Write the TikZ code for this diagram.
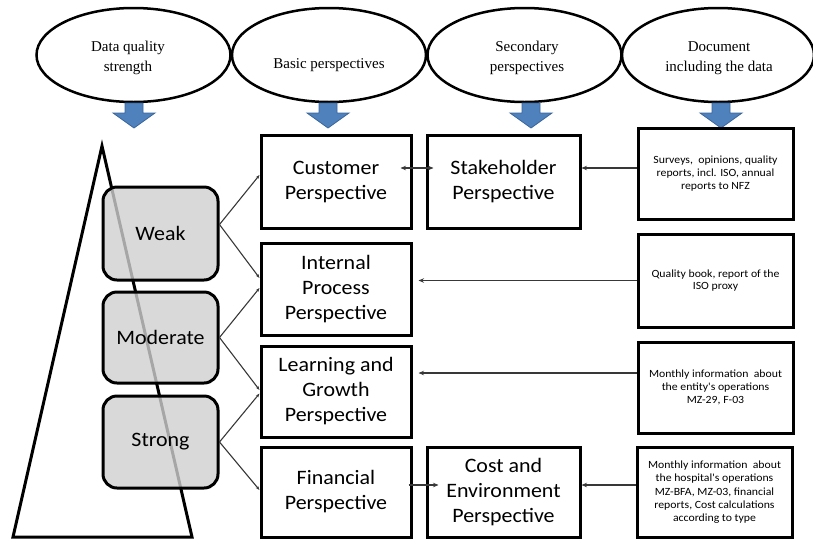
\documentclass[tikz,border=0pt]{standalone}
\usepackage{fontspec}
\setmainfont{Liberation Serif}
\newfontfamily\calib[FakeStretch=1.07]{Carlito}
\usetikzlibrary{arrows.meta,calc,shapes.geometric}
\definecolor{boxgray}{HTML}{D0D0D0}
\definecolor{arrblue}{HTML}{4F81BD}
\definecolor{arrblueedge}{HTML}{3A659A}
\definecolor{conncol}{HTML}{383838}
\begin{document}
\begin{tikzpicture}[x=1pt,y=-1pt,
  ell/.style={draw, line width=2.5pt, ellipse, minimum width=194pt, minimum height=94pt, inner sep=0pt},
  elltext/.style={align=center, font=\fontsize{15}{19.5}\selectfont, inner sep=0pt},
  persp/.style={draw, line width=3pt, minimum width=150pt, inner sep=0pt, align=center,
    font=\calib\fontsize{20.5}{25}\selectfont},
  docbox/.style={draw, line width=3pt, minimum width=155pt, inner sep=0pt, align=center,
    font=\calib\fontsize{11}{12.8}\selectfont},
  rbox/.style={draw=black, line width=3pt, rounded corners=14pt, fill=boxgray, fill opacity=0.8,
    text opacity=1, minimum width=115pt, inner sep=0pt, font=\calib\fontsize{20.5}{25}\selectfont},
  conn/.style={draw=conncol, line width=1.1pt, -{Stealth[length=5.5pt,width=4.5pt]}},
  lnk/.style={draw=conncol, line width=1.1pt, -{Stealth[length=4pt,width=3pt]}},
  bluearr/.style={fill=arrblue, draw=arrblueedge, line width=0.8pt, line join=miter},
  pics/downarrow/.style={code={\path[bluearr] (-9,0) -- (9,0) -- (9,10) -- (21,10) -- (0,25) -- (-21,10) -- (-9,10) -- cycle;}}
]
\useasboundingbox (0,0) rectangle (813,539);

% header ellipses
\node[ell] (e1) at (133.5,55) {};
\node[ell] (e2) at (329,55) {};
\node[ell] (e3) at (524.5,55) {};
\node[ell, minimum width=192pt] (e4) at (718,55) {};
\node[elltext] (t1) at (128,58) {Data quality\\strength};
\node[elltext] (t2) at (329,65) {Basic perspectives};
\node[elltext] (t3) at (527,58) {Secondary\\perspectives};
\node[elltext] (t4) at (719,58) {Document\\including the data};

% blue arrows
\pic at (134,103) {downarrow};
\pic at (328,103) {downarrow};
\pic at (531,103) {downarrow};
\pic at (721,103) {downarrow};

% triangle
\draw[line width=3pt, line join=miter, miter limit=20] (13,537) -- (102,146) -- (192,537) -- cycle;

% strength boxes
\node[rbox, minimum height=93pt] (weak) at (160.5,233.5) {Weak};
\node[rbox, minimum height=91pt] (mod) at (160.5,337.5) {Moderate};
\node[rbox, minimum height=92pt] (str) at (160.5,442) {Strong};

% basic perspectives
\node[persp, minimum height=93pt] (cust) at (336,181.5) {Customer\\Perspective};
\node[persp, minimum height=92pt] (int) at (336,289) {Internal\\Process\\Perspective};
\node[persp, minimum height=91pt] (learn) at (336,391.5) {Learning and\\Growth\\Perspective};
\node[persp, minimum height=90pt] (fin) at (336,492) {Financial\\Perspective};

% secondary perspectives
\node[persp, minimum width=153pt, minimum height=93pt] (stake) at (503.5,181.5) {Stakeholder\\Perspective};
\node[persp, minimum width=153pt, minimum height=90pt] (cost) at (503.5,492) {Cost and\\Environment\\Perspective};

% documents
\node[docbox, minimum height=91pt] (d1) at (715.5,173.5) {Surveys,~ opinions, quality\\reports, incl. ISO, annual\\reports to NFZ};
\node[docbox, minimum height=93pt] (d2) at (715.5,280.5) {Quality book, report of the\\ISO proxy};
\node[docbox, minimum height=91pt] (d3) at (715.5,387.5) {Monthly information~ about\\the entity's operations\\MZ-29, F-03};
\node[docbox, minimum height=90pt] (d4) at (714.5,492) {Monthly information~ about\\the hospital's operations\\[2pt]MZ-BFA, MZ-03, financial\\reports, Cost calculations\\according to type};

% links from strength boxes
\coordinate (wk) at ([yshift=9pt]weak.east);
\draw[lnk] (wk) -- ([yshift=6.5pt]cust.west);
\draw[lnk] (wk) -- ([yshift=11pt]int.west);
\draw[lnk] (mod.east) -- ([yshift=1pt]int.west);
\draw[lnk] (mod.east) -- ([yshift=1.5pt]learn.west);
\draw[lnk] (str.east) -- ([yshift=-2pt]learn.west);
\draw[lnk] (str.east) -- ([yshift=2pt]fin.west);

% horizontal connectors
\coordinate (a1) at ([yshift=13.5pt]cust.east);
\draw[conn, {Stealth[length=5.5pt,width=4.5pt]}-{Stealth[length=5.5pt,width=4.5pt]}, shorten <=-12pt, shorten >=-8pt] (a1) -- (a1 -| stake.west);
\coordinate (a2) at ([yshift=5.5pt]d1.west);
\draw[conn] (a2) -- (a2 -| stake.east);
\draw[conn, shorten >=6pt] (d2.west) -- (d2.west -| int.east);
\coordinate (a3) at ([yshift=14.5pt]d3.west);
\draw[conn, shorten >=6pt] (a3) -- (a3 -| learn.east);
\coordinate (a4) at ([yshift=7pt]d4.west);
\draw[conn] (a4) -- (a4 -| cost.east);
\coordinate (a5) at ([yshift=7pt]fin.east);
\draw[conn, shorten <=-4pt, shorten >=-13pt] (a5) -- (a5 -| cost.west);
\end{tikzpicture}
\end{document}
